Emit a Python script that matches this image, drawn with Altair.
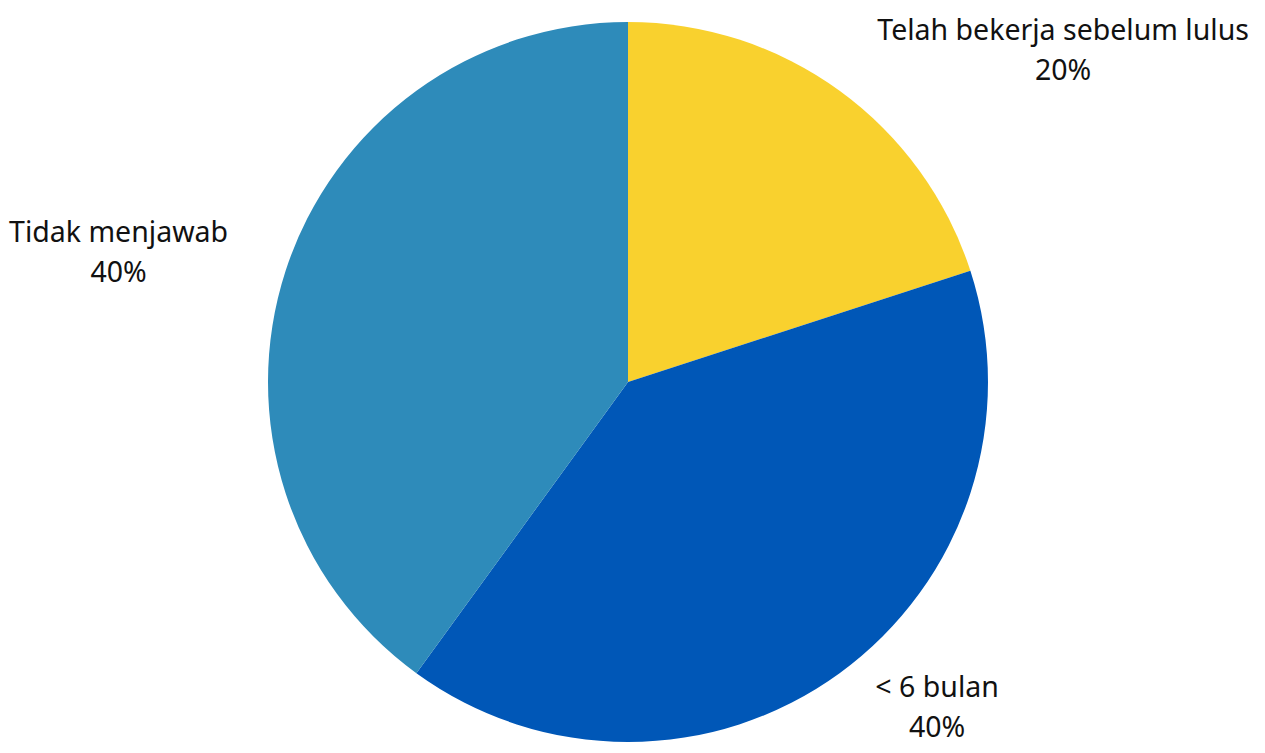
import altair as alt
import pandas as pd

categories = ["Telah bekerja sebelum lulus", "< 6 bulan", "Tidak menjawab"]
values = [20, 40, 40]
colors = ["#F9D12E", "#0057B7", "#2E8BBA"]

df = pd.DataFrame({
    "category": categories,
    "value": values,
    "order": list(range(len(categories))),
})

theta = alt.Theta("value:Q", stack=True)
order = alt.Order("order:Q")

base = alt.Chart(df)

pie = base.mark_arc(outerRadius=360).encode(
    theta=theta,
    order=order,
    color=alt.Color("category:N", scale=alt.Scale(domain=categories, range=colors), legend=None),
    x=alt.value(620),
    y=alt.value(374),
)

# per-label offsets (style), label anchored at slice mid-angle
offsets = {
    "Telah bekerja sebelum lulus": (200, -27),
    "< 6 bulan": (74, -18),
    "Tidak menjawab": (-129, -25),
}

layers = [pie]
for cat in categories:
    dx, dy = offsets[cat]
    t = base.transform_calculate(
        label="datum.category + '\\n' + datum.value + '%'"
    ).mark_text(
        radius=400, font="Noto Sans", fontSize=28.5, lineBreak="\n", lineHeight=40,
        color="#111111", align="center", baseline="middle", dx=dx, dy=dy,
    ).encode(
        theta=theta,
        order=order,
        text="label:N",
        x=alt.value(620),
        y=alt.value(374),
        opacity=alt.condition(alt.datum.category == cat, alt.value(1), alt.value(0)),
    )
    layers.append(t)

chart = alt.layer(*layers).properties(
    width=1249, height=737, padding=0
).configure_view(stroke=None)

chart.save("out.html", embed_options={"renderer": "svg", "actions": False})
